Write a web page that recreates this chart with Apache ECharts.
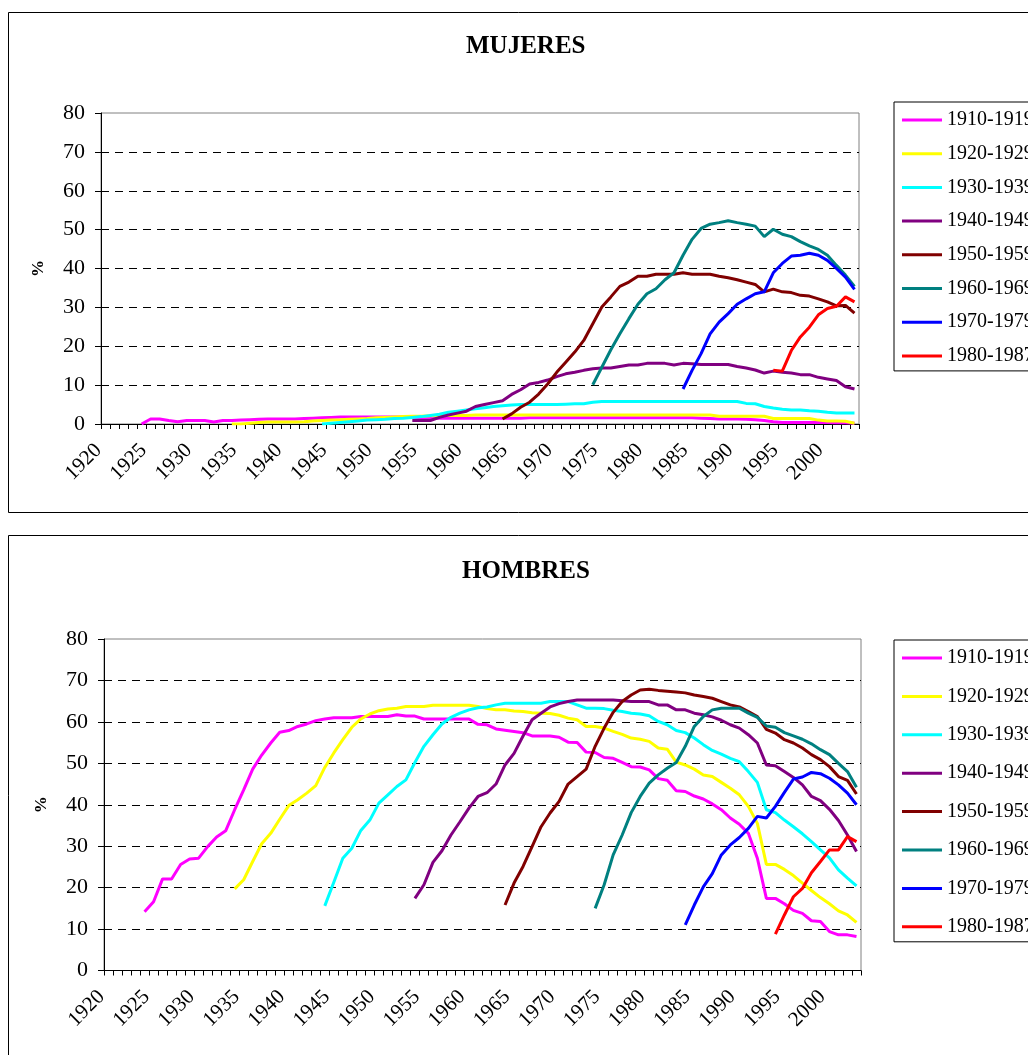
<!DOCTYPE html>
<html>
<head>
<meta charset="utf-8">
<script src="https://cdn.jsdelivr.net/npm/echarts@6/dist/echarts.min.js"></script>
<style>
  html, body { margin: 0; padding: 0; background: #fff; }
  #chart { width: 1028px; height: 1055px; }
</style>
</head>
<body>
<div id="chart"></div>
<script>
// Years on the category axis (one tick per year)
const years = [];
for (let y = 1920; y <= 2003; y++) years.push(String(y));

// Cohort names and line colours
const cohorts = ['1910-1919', '1920-1929', '1930-1939', '1940-1949', '1950-1959', '1960-1969', '1970-1979', '1980-1987'];
const cohortColors = ['#FF00FF', '#FFFF00', '#00FFFF', '#800080', '#800000', '#008080', '#0000FF', '#FF0000'];
// First year plotted for each cohort
const cohortStart = [1924, 1934, 1944, 1954, 1964, 1974, 1984, 1994];

// MUJERES (%)
const mujeres1910 = [0.0, 1.3, 1.3, 0.9, 0.6, 0.9, 0.9, 0.9, 0.5, 0.9,
  0.9, 1.0, 1.1, 1.2, 1.3, 1.3, 1.3, 1.3, 1.4, 1.5,
  1.6, 1.7, 1.8, 1.8, 1.8, 1.8, 1.8, 1.8, 1.8, 1.8,
  1.7, 1.6, 1.5, 1.5, 1.5, 1.5, 1.5, 1.5, 1.5, 1.5,
  1.5, 1.5, 1.5, 1.6, 1.6, 1.6, 1.6, 1.6, 1.6, 1.6,
  1.6, 1.6, 1.6, 1.6, 1.6, 1.6, 1.6, 1.6, 1.6, 1.6,
  1.6, 1.6, 1.5, 1.4, 1.3, 1.3, 1.3, 1.2, 1.1, 0.9,
  0.6, 0.4, 0.4, 0.4, 0.4, 0.4, 0.4, 0.3, 0.3, 0.2];
const mujeres1920 = [0.0, 0.0, 0.2, 0.4, 0.5, 0.5, 0.5, 0.5, 0.6, 0.8,
  0.9, 1.0, 1.1, 1.2, 1.3, 1.4, 1.6, 1.7, 1.8, 1.9,
  2.0, 2.0, 2.1, 2.1, 2.2, 2.2, 2.2, 2.3, 2.3, 2.3,
  2.3, 2.3, 2.3, 2.3, 2.3, 2.3, 2.3, 2.3, 2.3, 2.3,
  2.3, 2.3, 2.3, 2.3, 2.3, 2.3, 2.3, 2.3, 2.3, 2.3,
  2.3, 2.3, 2.3, 2.3, 2.0, 2.0, 2.0, 2.0, 2.0, 2.0,
  1.4, 1.4, 1.4, 1.4, 1.4, 1.0, 0.8, 0.8, 0.7, 0.2];
const mujeres1930 = [0.0, 0.2, 0.4, 0.6, 0.8, 1.0, 1.1, 1.2, 1.4, 1.5,
  1.7, 1.9, 2.2, 2.5, 3.0, 3.3, 3.6, 3.9, 4.2, 4.5,
  4.7, 4.9, 5.0, 5.0, 5.0, 5.0, 5.0, 5.1, 5.2, 5.2,
  5.6, 5.8, 5.8, 5.8, 5.8, 5.8, 5.8, 5.8, 5.8, 5.8,
  5.8, 5.8, 5.8, 5.8, 5.8, 5.8, 5.8, 5.3, 5.2, 4.5,
  4.1, 3.8, 3.6, 3.6, 3.4, 3.3, 3.0, 2.8, 2.8, 2.8];
const mujeres1940 = [0.9, 0.9, 0.9, 1.7, 2.3, 2.8, 3.3, 4.5, 5.0, 5.5,
  6.0, 7.6, 8.8, 10.3, 10.7, 11.3, 12.2, 12.9, 13.3, 13.8,
  14.2, 14.4, 14.4, 14.8, 15.2, 15.2, 15.6, 15.6, 15.6, 15.2,
  15.6, 15.5, 15.3, 15.3, 15.3, 15.3, 14.8, 14.4, 13.9, 13.1,
  13.6, 13.3, 13.1, 12.7, 12.7, 12.0, 11.6, 11.2, 9.6, 9.0];
const mujeres1950 = [1.3, 2.6, 4.3, 5.6, 7.7, 10.3, 13.3, 15.9, 18.5, 21.5,
  25.8, 30.1, 32.7, 35.4, 36.5, 38.0, 38.0, 38.5, 38.5, 38.5,
  38.9, 38.5, 38.5, 38.5, 38.0, 37.6, 37.1, 36.5, 35.9, 34.0,
  34.7, 34.0, 33.8, 33.1, 32.9, 32.2, 31.4, 30.4, 30.5, 28.5];
const mujeres1960 = [10.1, 14.6, 19.1, 23.2, 27.1, 30.8, 33.5, 34.8, 37.1, 38.9,
  43.4, 47.5, 50.3, 51.4, 51.8, 52.3, 51.8, 51.4, 50.9, 48.2,
  50.1, 48.8, 48.2, 46.9, 45.8, 44.9, 43.4, 40.8, 38.3, 35.4];
const mujeres1970 = [9.0, 13.8, 18.1, 23.2, 26.2, 28.4, 30.8, 32.2, 33.5, 34.0,
  38.9, 41.3, 43.2, 43.4, 43.9, 43.4, 42.1, 40.0, 37.8, 34.6];
const mujeres1980 = [13.8, 13.6, 18.9, 22.4, 24.9, 28.1, 29.7, 30.3, 32.7, 31.4];

// HOMBRES (%)
const hombres1910 = [14.2, 16.6, 22.1, 22.1, 25.6, 26.9, 27.1, 29.9, 32.2, 33.7,
  38.8, 43.6, 48.6, 52.0, 54.9, 57.5, 57.9, 58.9, 59.5, 60.3,
  60.7, 61.0, 61.0, 61.0, 61.3, 61.3, 61.3, 61.3, 61.7, 61.4,
  61.4, 60.7, 60.7, 60.7, 60.7, 60.7, 60.7, 59.4, 59.3, 58.3,
  58.0, 57.7, 57.4, 56.6, 56.6, 56.6, 56.3, 55.1, 55.0, 52.7,
  52.6, 51.4, 51.2, 50.2, 49.2, 49.1, 48.4, 46.3, 45.9, 43.4,
  43.2, 42.1, 41.4, 40.2, 38.8, 36.8, 35.3, 33.1, 27.1, 17.4,
  17.4, 16.1, 14.5, 13.8, 12.0, 11.8, 9.4, 8.6, 8.6, 8.2];
const hombres1920 = [19.7, 21.9, 26.3, 30.6, 33.1, 36.5, 39.8, 41.2, 42.8, 44.6,
  49.0, 52.5, 55.7, 58.7, 60.7, 61.9, 62.7, 63.1, 63.3, 63.7,
  63.7, 63.7, 64.0, 64.0, 64.0, 64.0, 64.0, 63.7, 63.2, 62.9,
  62.9, 62.6, 62.5, 62.2, 62.1, 62.0, 61.6, 60.9, 60.5, 58.9,
  58.9, 58.5, 57.7, 57.0, 56.1, 55.8, 55.3, 53.7, 53.4, 50.3,
  49.6, 48.6, 47.2, 46.8, 45.4, 44.0, 42.4, 39.6, 35.5, 25.6,
  25.6, 24.4, 22.9, 21.1, 19.3, 17.6, 16.1, 14.4, 13.4, 11.6];
const hombres1930 = [15.6, 21.3, 27.1, 29.5, 33.8, 36.3, 40.4, 42.4, 44.4, 46.0,
  50.2, 54.1, 56.9, 59.5, 61.1, 62.1, 62.9, 63.4, 63.6, 64.1,
  64.5, 64.5, 64.5, 64.5, 64.5, 64.9, 64.9, 64.9, 64.1, 63.3,
  63.3, 63.2, 62.8, 62.5, 62.1, 61.9, 61.5, 60.1, 59.3, 57.9,
  57.4, 56.1, 54.5, 53.1, 52.2, 51.2, 50.4, 48.0, 45.4, 38.8,
  38.1, 36.3, 34.7, 33.0, 31.1, 29.1, 27.2, 24.3, 22.3, 20.4];
const hombres1940 = [17.4, 20.7, 26.1, 28.9, 32.7, 35.9, 39.2, 42.0, 42.9, 45.0,
  49.6, 52.4, 56.6, 60.5, 62.1, 63.6, 64.4, 64.9, 65.3, 65.3,
  65.3, 65.3, 65.3, 65.1, 64.9, 64.9, 64.9, 64.1, 64.1, 62.9,
  62.9, 62.1, 61.7, 61.2, 60.4, 59.3, 58.5, 56.9, 54.9, 49.6,
  49.4, 48.0, 46.6, 44.8, 42.0, 41.0, 38.9, 36.2, 32.7, 28.7];
const hombres1950 = [15.8, 21.1, 25.1, 29.9, 34.7, 38.0, 40.8, 45.0, 46.8, 48.6,
  54.1, 58.5, 62.3, 64.9, 66.5, 67.7, 67.9, 67.6, 67.4, 67.2,
  67.0, 66.5, 66.1, 65.7, 64.9, 64.1, 63.6, 62.5, 61.3, 58.2,
  57.3, 55.7, 54.9, 53.7, 52.1, 50.9, 49.2, 46.8, 45.9, 42.6];
const hombres1960 = [15.0, 20.7, 27.9, 32.7, 38.1, 42.0, 45.2, 47.2, 48.8, 50.2,
  54.1, 58.9, 61.3, 62.9, 63.3, 63.3, 63.3, 62.1, 61.1, 59.0,
  58.7, 57.4, 56.6, 55.8, 54.7, 53.3, 52.1, 50.0, 48.0, 44.2];
const hombres1970 = [11.0, 15.8, 20.2, 23.4, 27.9, 30.3, 32.1, 34.3, 37.2, 36.8,
  39.6, 43.0, 46.2, 46.7, 47.8, 47.5, 46.4, 44.8, 42.8, 40.0];
const hombres1980 = [8.8, 13.4, 17.8, 19.8, 23.6, 26.3, 29.1, 29.1, 32.3, 31.1];

const mujeresData = [mujeres1910, mujeres1920, mujeres1930, mujeres1940, mujeres1950, mujeres1960, mujeres1970, mujeres1980];
const hombresData = [hombres1910, hombres1920, hombres1930, hombres1940, hombres1950, hombres1960, hombres1970, hombres1980];

const serif = "'Liberation Serif', 'Times New Roman', serif";

// Align a cohort's values with the year axis (empty before its first year)
function alignToYears(startYear, values) {
  const out = years.map(() => null);
  values.forEach((v, k) => { out[startYear - 1920 + k] = v; });
  return out;
}

function buildSeries(dataSets, axisIndex) {
  return dataSets.map((vals, k) => ({
    name: cohorts[k],
    type: 'line',
    xAxisIndex: axisIndex,
    yAxisIndex: axisIndex,
    data: alignToYears(cohortStart[k], vals),
    symbol: 'none',
    connectNulls: false,
    color: cohortColors[k],
    lineStyle: { width: 3, color: cohortColors[k] },
    animation: false
  }));
}

function xAxisFor(gridIndex) {
  return {
    type: 'category',
    gridIndex: gridIndex,
    data: years,
    boundaryGap: true,
    axisLine: { show: true, lineStyle: { color: '#000', width: 1 } },
    axisTick: { show: true, interval: 0, length: 5, lineStyle: { color: '#000' } },
    axisLabel: {
      interval: 4, rotate: 45, fontSize: 21, fontFamily: serif, color: '#000',
      margin: 16, padding: [0, 10, 0, 0]
    },
    splitLine: { show: false }
  };
}

function yAxisFor(gridIndex) {
  return {
    type: 'value',
    gridIndex: gridIndex,
    min: 0, max: 80, interval: 10,
    axisLine: { show: true, lineStyle: { color: '#000', width: 1 } },
    axisTick: { show: true, length: 6, lineStyle: { color: '#000' } },
    axisLabel: { fontSize: 22, fontFamily: serif, color: '#000', margin: 16 },
    splitLine: {
      show: true,
      lineStyle: {
        type: [8, 6], width: 1,
        color: ['rgba(0,0,0,0)', '#000', '#000', '#000', '#000', '#000', '#000', '#000', 'rgba(0,0,0,0)']
      }
    },
    name: '%',
    nameLocation: 'middle',
    nameRotate: 90,
    nameGap: 54,
    nameTextStyle: { fontSize: 17, fontWeight: 'bold', fontFamily: serif, color: '#000' }
  };
}

function legendFor(top, gap) {
  return {
    orient: 'vertical',
    left: 894,
    top: top,
    icon: 'rect',
    itemWidth: 40,
    itemHeight: 3,
    itemGap: gap,
    padding: [8, 12, 5, 8],
    borderColor: '#000',
    borderWidth: 1,
    backgroundColor: '#fff',
    selectedMode: false,
    data: cohorts,
    textStyle: { fontSize: 20, lineHeight: 20, fontFamily: serif, color: '#000' }
  };
}

const chart = echarts.init(document.getElementById('chart'), null, { renderer: 'canvas' });
chart.setOption({
  backgroundColor: '#fff',
  animation: false,
  title: [
    { text: 'MUJERES', left: 461, top: 29, textStyle: { fontSize: 25, fontWeight: 'bold', fontFamily: serif, color: '#000' } },
    { text: 'HOMBRES', left: 457, top: 554, textStyle: { fontSize: 25, fontWeight: 'bold', fontFamily: serif, color: '#000' } }
  ],
  graphic: [
    { type: 'rect', shape: { x: 8.5, y: 12.5, width: 1100, height: 500 }, style: { fill: 'none', stroke: '#000', lineWidth: 1 }, z: -1 },
    { type: 'rect', shape: { x: 8.5, y: 535.5, width: 1100, height: 600 }, style: { fill: 'none', stroke: '#000', lineWidth: 1 }, z: -1 }
  ],
  legend: [legendFor(102, 13.7), legendFor(640, 18.4)],
  grid: [
    { left: 101, top: 113, width: 758, height: 311, show: true, borderColor: '#808080', borderWidth: 1, backgroundColor: 'transparent' },
    { left: 104, top: 639, width: 757, height: 331.5, show: true, borderColor: '#808080', borderWidth: 1, backgroundColor: 'transparent' }
  ],
  xAxis: [xAxisFor(0), xAxisFor(1)],
  yAxis: [yAxisFor(0), yAxisFor(1)],
  series: buildSeries(mujeresData, 0).concat(buildSeries(hombresData, 1))
});
</script>
</body>
</html>
